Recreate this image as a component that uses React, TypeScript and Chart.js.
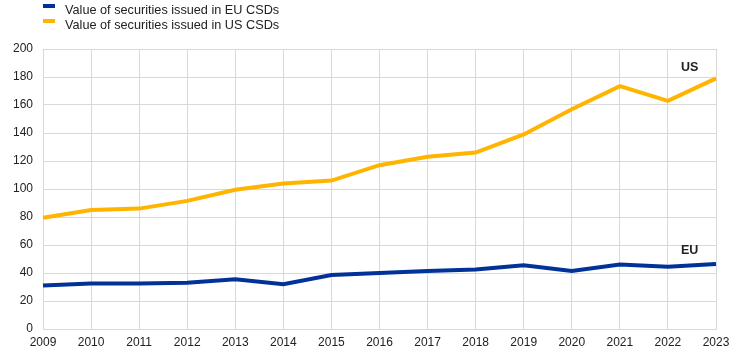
import React, { useEffect, useRef } from "react";
import { Chart, registerables } from "chart.js";

Chart.register(...registerables);

const years = ["2009","2010","2011","2012","2013","2014","2015","2016","2017","2018","2019","2020","2021","2022","2023"];
const euValues = [31, 32.5, 32.5, 33, 35.5, 32, 38.5, 40, 41.5, 42.5, 45.5, 41.5, 46, 44.5, 46.5];
const usValues = [79.5, 85, 86, 91.5, 99.5, 104, 106, 117, 123, 126, 139, 157, 173.5, 163, 179];
const seriesNames = ["Value of securities issued in EU CSDs", "Value of securities issued in US CSDs"];
const seriesColors = ["#003299", "#FFB400"];
const endLabels = ["EU", "US"];
const endLabelValues = [56, 187];
const endLabelIndex = 13.45;

const FONT = "Arial, 'Liberation Sans', sans-serif";

export default function App() {
  const ref = useRef<HTMLCanvasElement>(null);
  useEffect(() => {
    document.body.style.margin = "0";
    const legendPlugin = {
      id: "customLegend",
      afterDraw(chart: any) {
        const ctx = chart.ctx;
        ctx.save();
        ctx.font = `12.7px ${FONT}`;
        ctx.textBaseline = "middle";
        seriesNames.forEach((name, i) => {
          const y = 10 + i * 15;
          ctx.fillStyle = seriesColors[i];
          ctx.fillRect(43, y - 6, 12, 4);
          ctx.fillStyle = "#222";
          ctx.fillText(name, 65, y);
        });
        const xs = chart.scales.x;
        const ys = chart.scales.y;
        ctx.font = `bold 12.5px ${FONT}`;
        ctx.textAlign = "center";
        ctx.fillStyle = "#222";
        endLabels.forEach((t, i) => {
          ctx.fillText(t, xs.getPixelForValue(endLabelIndex), ys.getPixelForValue(endLabelValues[i]));
        });
        ctx.restore();
      },
    };
    const chart = new Chart(ref.current!, {
      type: "line",
      data: {
        labels: years,
        datasets: [
          { label: seriesNames[0], data: euValues, borderColor: seriesColors[0], backgroundColor: seriesColors[0], borderWidth: 4, pointRadius: 0, tension: 0 },
          { label: seriesNames[1], data: usValues, borderColor: seriesColors[1], backgroundColor: seriesColors[1], borderWidth: 4, pointRadius: 0, tension: 0 },
        ],
      },
      options: {
        animation: false,
        responsive: false,
        maintainAspectRatio: false,
        layout: { padding: { top: 49, right: 29, left: 0, bottom: 0 } },
        plugins: { legend: { display: false }, tooltip: { enabled: false } },
        scales: {
          x: {
            offset: false,
            grid: { color: "#d9d9d9", drawTicks: false },
            border: { color: "#d9d9d9" },
            ticks: { color: "#222", font: { family: FONT, size: 12 }, padding: 6, maxRotation: 0, autoSkip: false },
            afterFit: (s: any) => { s.height = 28; },
          },
          y: {
            min: 0,
            max: 200,
            grid: { color: "#d9d9d9", drawTicks: false },
            border: { color: "#d9d9d9" },
            ticks: { stepSize: 20, color: "#222", font: { family: FONT, size: 12 }, padding: 10 },
            afterFit: (s: any) => { s.width = 43; },
          },
        },
      },
      plugins: [legendPlugin],
    });
    return () => chart.destroy();
  }, []);
  return (
    <div style={{ width: 745, height: 357 }}>
      <canvas ref={ref} width={745} height={357} />
    </div>
  );
}
